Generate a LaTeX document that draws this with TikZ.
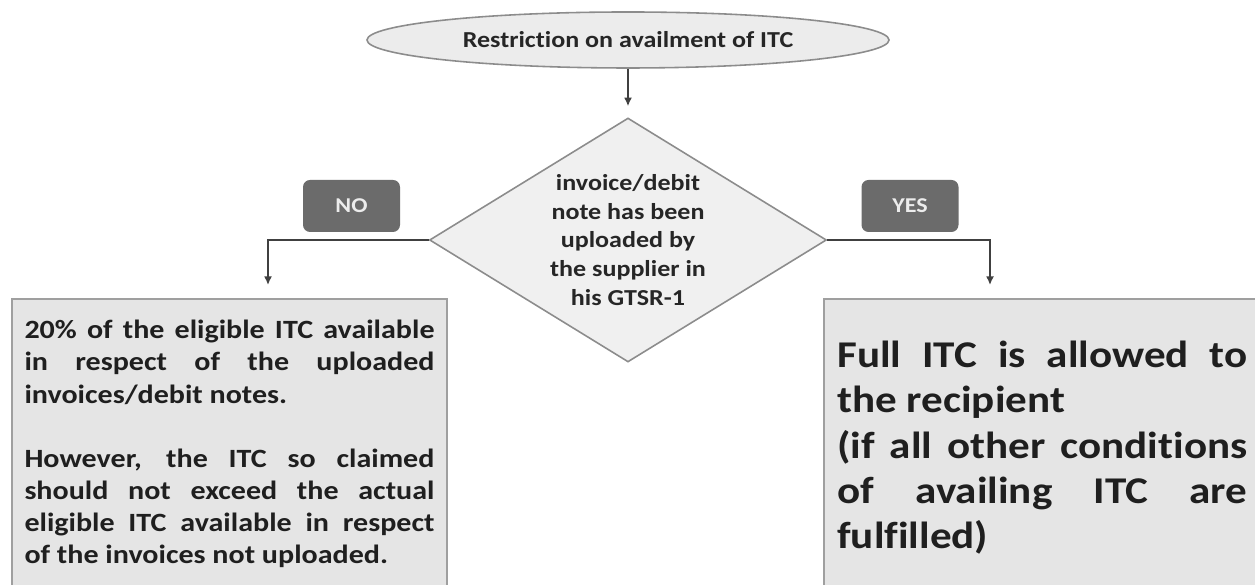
\documentclass[tikz,border=0pt]{standalone}
\usepackage{fontspec}
\setmainfont{Carlito}[FakeStretch=1.14, Ligatures=CommonOff, Contextuals=AlternateOff]
\usetikzlibrary{positioning, arrows.meta, shapes.geometric}

\begin{document}
\begin{tikzpicture}[
    start/.style={ellipse, draw=gray!90, line width=0.9pt, fill=gray!15, minimum width=10.44cm, minimum height=1.12cm, inner sep=0pt},
    decision/.style={diamond, draw=gray!90, line width=0.9pt, fill=gray!12, minimum width=7.94cm, minimum height=4.88cm, inner sep=0pt},
    outbox/.style={draw=gray!75, line width=1.2pt, fill=gray!20, inner sep=0pt},
    tag/.style={rounded corners=4pt, fill=black!58, text=gray!15, minimum width=1.94cm, minimum height=1.04cm, font=\bfseries\fontsize{12}{14}\selectfont},
    bodytext/.style={inner sep=0pt, text width=8.2cm, align=justify, text=black!88},
    arrow/.style={-{Latex[length=1.7mm, width=1.6mm]}, line width=1.1pt, black!75},
]
\useasboundingbox (0,0) rectangle (25.1,11.7);
\clip (0,0) rectangle (25.1,11.7);

% Start and decision
\node[start, font=\bfseries\fontsize{13}{16}\selectfont, text=black!85] (title) at (12.56, 10.9) {Restriction on availment of ITC};
\node[decision] (check) at (12.56, 6.9) {};
\node[align=center, inner sep=0pt, text=black!85, font=\bfseries\fontsize{13}{16.4}\selectfont] (checktext) at (check) {invoice/debit\\ note has been\\ uploaded by\\ the supplier in\\ his GTSR-1};

% Answer tags
\node[tag] (no) at (7.03, 7.58) {NO};
\node[tag] (yes) at (18.2, 7.58) {YES};

% Outcome boxes
\node[outbox, anchor=north, minimum width=8.7cm, minimum height=6.4cm] (nobox) at (4.59, 5.74) {};
\node[outbox, anchor=north west, minimum width=9cm, minimum height=6.4cm] (yesbox) at (16.46, 5.74) {};

\node[bodytext, below=0.44cm of nobox.north, font=\bfseries\fontsize{15}{18.3}\selectfont] (notext) {20\% of the eligible ITC available \linebreak in respect of the uploaded \linebreak invoices/debit notes.\par\vspace{18.3pt}However, the ITC so claimed \linebreak should not exceed the actual \linebreak eligible ITC available in respect \linebreak of the invoices not uploaded.};
\node[bodytext, anchor=north west, font=\bfseries\fontsize{21.5}{25.8}\selectfont] (yestext) at ([xshift=0.28cm, yshift=-0.85cm]yesbox.north west) {Full ITC is allowed to \linebreak the recipient\par (if all other conditions \linebreak of availing ITC are \linebreak fulfilled)};

% Arrow ends
\coordinate (noin) at (5.36, 6.0);
\coordinate (yesin) at (19.8, 6.0);

% Connectors
\draw[arrow, shorten >=0.22cm] (title) -- (check);
\draw[arrow] (check.west) -| (noin);
\draw[arrow] (check.east) -| (yesin);

\end{tikzpicture}
\end{document}
